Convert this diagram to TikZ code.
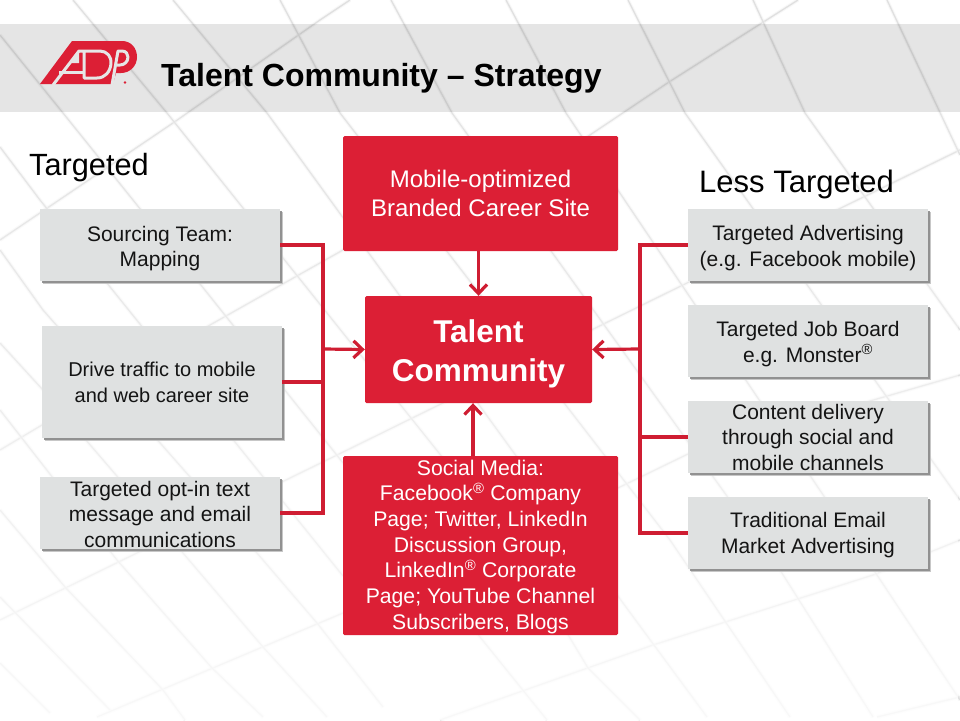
\documentclass[tikz,border=0pt]{standalone}
\usepackage{fontspec}
\setmainfont{Liberation Sans}
\usetikzlibrary{arrows.meta,shadows,fadings}
\definecolor{adpred}{HTML}{DC1F35}
\definecolor{boxgray}{HTML}{DFE1E1}
\definecolor{bgline}{HTML}{E0E0E0}
\definecolor{logogap}{HTML}{E6E6E6}
\tikzset{
 x=1pt,y=-1pt,
 graybox/.style={draw=none,fill=boxgray,minimum width=240pt,text=black!92,inner sep=0pt,font=\fontsize{21}{25.5}\selectfont,
   drop shadow={shadow xshift=3.4pt,shadow yshift=-3.4pt,fill=black!12,opacity=.6},
   drop shadow={shadow xshift=2.6pt,shadow yshift=-2.6pt,fill=black!28,opacity=.7},
   drop shadow={shadow xshift=1.6pt,shadow yshift=-1.8pt,fill=black!45,opacity=.9}},
 redbox/.style={draw=none,fill=adpred,rounded corners=1.5pt,text=white,inner sep=0pt},
 conn/.style={draw=adpred!94!black,line width=3.2pt,line join=miter},
 arr/.style={conn,-{Straight Barb[length=9pt,width=17pt,line width=3.2pt]}},
 bg/.style={draw=bgline,line width=1.3pt,line join=round},
 bgwide/.style={draw=bgline!45,line width=3.5pt,line join=round,opacity=.5},
 head/.style={anchor=west,text=black,inner sep=0pt},
 logogapline/.style={draw=logogap,line width=3pt,line cap=butt,line join=round},
}
\newcommand{\rg}{\textsuperscript{\textregistered}}
\newcommand{\dn}[2]{\raisebox{\dimexpr #1-0.25em\relax}[0pt][0pt]{\begin{tabular}{@{}c@{}}#2\end{tabular}}}
\newcommand{\bgl}[1]{\draw[bgwide] #1; \draw[bg] #1;}
\begin{document}
\begin{tikzpicture}
\useasboundingbox (0,0) rectangle (960,720);
\fill[white] (0,0) rectangle (960,720);
% background lattice
\begin{scope}
\clip (0,0) rectangle (960,720);
% rising
\bgl{(0,240) -- (173,123) -- (320,20) -- (350,0)}
\bgl{(0,450) -- (210,325) -- (343,250) -- (581,141) -- (669,82) -- (798,0)}
\bgl{(0,620) -- (333,457) -- (687,283) -- (960,150)}
\bgl{(97,717) -- (343,613) -- (620,487) -- (690,453) -- (960,375)}
\bgl{(440,720) -- (653,645) -- (873,575) -- (960,540)}
\bgl{(877,717) -- (960,697)}
% descending
\bgl{(0,35) -- (63,113) -- (133,200) -- (415,553) -- (480,637) -- (547,720)}
\bgl{(73,0) -- (167,113) -- (519,553) -- (588,668) -- (640,720)}
\bgl{(173,0) -- (267,113) -- (623,603) -- (707,717)}
\bgl{(280,0) -- (340,113) -- (670,540) -- (790,717)}
\bgl{(391,0) -- (452,113) -- (780,570) -- (873,717)}
\bgl{(506,0) -- (566,113) -- (877,575) -- (960,700)}
\bgl{(628,0) -- (685,113) -- (960,500)}
\bgl{(753,0) -- (805,113) -- (960,330)}
\bgl{(887,0) -- (960,155)}
\bgl{(0,147) -- (40,200) -- (343,576)}
\bgl{(0,250) -- (43,310) -- (257,553) -- (317,623) -- (383,707)}
\bgl{(0,343) -- (43,390) -- (183,553) -- (263,647) -- (327,717)}
\bgl{(0,410) -- (117,560) -- (212,668) -- (263,717)}
\bgl{(0,510) -- (65,587) -- (163,690) -- (185,720)}
\bgl{(0,597) -- (110,710)}
\bgl{(0,663) -- (50,713)}
\end{scope}
% fade the lattice towards the bottom
\fill[white,path fading=north,opacity=.8] (0,0) rectangle (960,720);
\fill[black,opacity=.1] (0,24) rectangle (960,112);
% logo
\fill[adpred] (40,84) -- (72,41) -- (122,41) .. controls (131,41) and (137,48) .. (137,57) .. controls (137,66) and (130,73) .. (121,73) -- (116,73) -- (113,84) -- (100,84) -- cycle;
\draw[logogapline] (53,85) -- (79,51) -- (100,51) .. controls (107,51) and (112,57) .. (111,64) .. controls (110,72) and (105,78) .. (97,78) -- (84,78) -- (84,51);
\draw[logogapline] (59,72) -- (84,72);
\fill[logogap] (69,63) -- (79,50) -- (79,63) -- cycle;
\draw[logogapline] (112,85) -- (118,51) -- (122,51) .. controls (126,51) and (128,54) .. (128,57) .. controls (128,62) and (124,65) .. (120,65) -- (116,65);
\fill[adpred] (125,82.5) circle (1.4);
\node[anchor=west,inner sep=0pt,font=\bfseries\fontsize{32}{38}\selectfont] (title) at (161,78) {Talent Community – Strategy};
\node[head,font=\fontsize{30.7}{36}\selectfont] (lt) at (29,168) {Targeted};
\node[head,font=\fontsize{31}{36}\selectfont] (lr) at (699,184) {Less Targeted};
% gray boxes
\node[graybox,minimum height=72pt] (a1) at (160,245) {\dn{-3.8pt}{Sourcing Team:\\Mapping}};
\node[graybox,minimum height=112pt,font=\fontsize{20}{25.5}\selectfont] (a2) at (162,382) {\dn{-2.5pt}{Drive traffic to mobile\\and web career site}};
\node[graybox,minimum height=72pt] (a3) at (160,513) {\dn{-3.5pt}{Targeted opt-in text\\message and email\\communications}};
\node[graybox,minimum height=72pt] (b1) at (808,245) {\dn{-3.5pt}{Targeted Advertising\\(e.g. Facebook mobile)}};
\node[graybox,minimum height=72pt] (b2) at (808,341) {\dn{-3.5pt}{Targeted Job Board\\e.g. Monster\rg}};
\node[graybox,minimum height=72pt] (b3) at (808,437) {\dn{-2.5pt}{Content delivery\\through social and\\mobile channels}};
\node[graybox,minimum height=72pt] (b4) at (808,533) {\dn{-2.5pt}{Traditional Email\\Market Advertising}};
% red boxes
\node[redbox,minimum width=275pt,minimum height=115pt,font=\fontsize{24}{29}\selectfont] (top) at (480.5,193.5) {\dn{-3pt}{Mobile-optimized\\Branded Career Site}};
\node[redbox,minimum width=227pt,minimum height=107pt,font=\bfseries\fontsize{31.5}{39}\selectfont] (tc) at (478.5,349.5) {\dn{-3.5pt}{Talent\\Community}};
\node[redbox,minimum width=275pt,minimum height=179pt,font=\fontsize{21.2}{25.7}\selectfont] (soc) at (480.5,545.5) {\dn{-1.5pt}{Social Media:\\Facebook\rg{} Company\\Page; Twitter, LinkedIn\\Discussion Group,\\LinkedIn\rg{}  Corporate\\Page; YouTube Channel\\Subscribers, Blogs}};
% connectors
\coordinate (lbus) at (323,349);
\coordinate (rbus) at (640,349);
\draw[conn] (a1.east) -- (a1.east -| lbus) -- (a3.east -| lbus) -- (a3.east);
\draw[conn] (a2.east) -- (a2.east -| lbus);
\draw[arr] (lbus) -- (tc.west);
\draw[conn] (b1.west) -- (b1.west -| rbus) -- (b4.west -| rbus) -- (b4.west);
\draw[conn] (b3.west) -- (b3.west -| rbus);
\draw[arr] (rbus) -- (tc.east);
\draw[arr] (top.south -| tc.north) -- (tc.north);
\coordinate (socup) at (473,456);
\draw[arr] (socup) -- (socup |- tc.south);
\end{tikzpicture}
\end{document}
